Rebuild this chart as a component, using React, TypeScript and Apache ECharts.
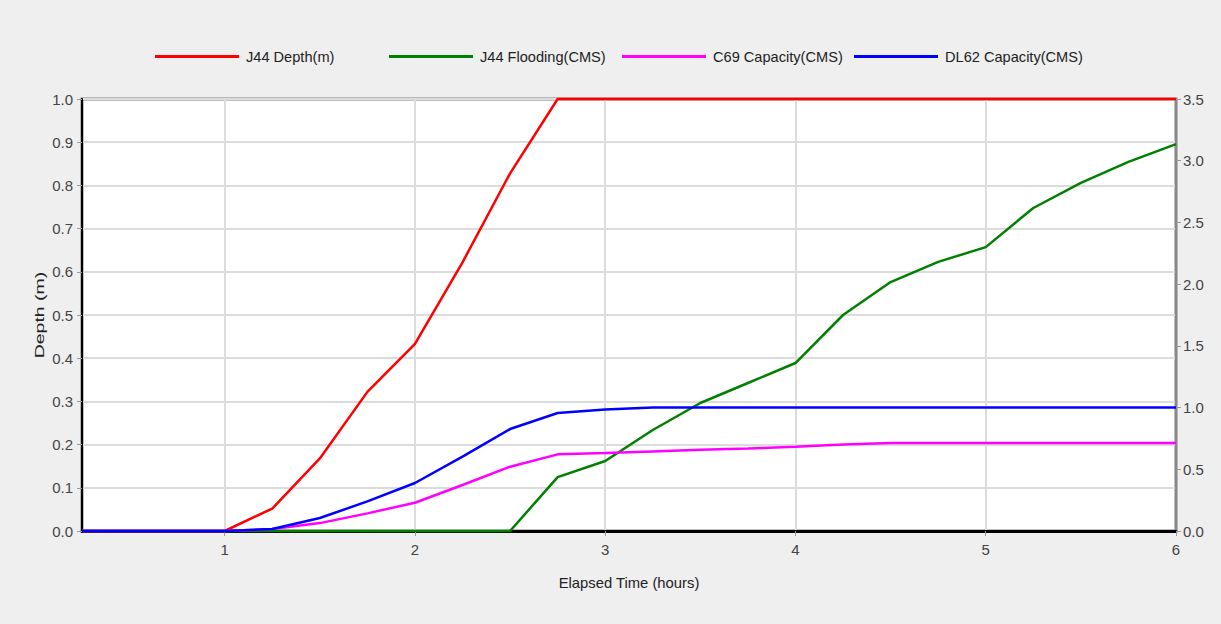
import React, { useEffect, useRef } from "react";
import * as echarts from "echarts";

const times = [0.25, 0.5, 0.75, 1.0, 1.25, 1.5, 1.75, 2.0, 2.25, 2.5, 2.75, 3.0, 3.25, 3.5, 3.75, 4.0, 4.25, 4.5, 4.75, 5.0, 5.25, 5.5, 5.75, 6.0];
const j44Depth = [0, 0, 0, 0, 0.052, 0.168, 0.322, 0.433, 0.622, 0.828, 1.0, 1.0, 1.0, 1.0, 1.0, 1.0, 1.0, 1.0, 1.0, 1.0, 1.0, 1.0, 1.0, 1.0];
const j44Flooding = [0, 0, 0, 0, 0, 0, 0, 0, 0, 0, 0.437, 0.567, 0.818, 1.037, 1.199, 1.361, 1.75, 2.017, 2.18, 2.3, 2.617, 2.82, 2.99, 3.135];
const c69Capacity = [0, 0, 0, 0, 0.016, 0.064, 0.143, 0.229, 0.373, 0.521, 0.621, 0.632, 0.645, 0.658, 0.668, 0.683, 0.7, 0.713, 0.713, 0.713, 0.713, 0.713, 0.713, 0.713];
const dl62Capacity = [0, 0, 0, 0, 0.016, 0.105, 0.24, 0.389, 0.602, 0.826, 0.956, 0.985, 1.0, 1.0, 1.0, 1.0, 1.0, 1.0, 1.0, 1.0, 1.0, 1.0, 1.0, 1.0];
const xTicks = [1, 2, 3, 4, 5, 6];
const seriesNames = ["J44 Depth(m)", "J44 Flooding(CMS)", "C69 Capacity(CMS)", "DL62 Capacity(CMS)"];
const seriesColors = ["#ff0000", "#008000", "#ff00ff", "#0000ff"];
const yAxisTitle = "Depth (m)";
const xAxisTitle = "Elapsed Time (hours)";

const FONT = "'Liberation Sans', Arial, sans-serif";

export default function App() {
  const ref = useRef<HTMLDivElement>(null);
  useEffect(() => {
    if (!ref.current) return;
    const chart = echarts.init(ref.current, undefined, { renderer: "svg" });
    const datasets = [j44Depth, j44Flooding, c69Capacity, dl62Capacity];
    const legendLefts = [155, 389, 622, 854];
    chart.setOption({
      animation: false,
      backgroundColor: "#efefef",
      textStyle: { fontFamily: FONT },
      legend: seriesNames.map((n, i) => ({
        data: [n],
        left: legendLefts[i],
        top: 49,
        padding: 0,
        icon: "rect",
        itemWidth: 84,
        itemHeight: 3,
        itemGap: 0,
        selectedMode: false,
        textStyle: { fontSize: 14.6, color: "#222", fontFamily: FONT, padding: [0, 0, 0, 2] },
      })),
      graphic: [
        {
          type: "text",
          x: 40,
          y: 315,
          rotation: Math.PI / 2,
          scaleX: 1.5,
          silent: true,
          style: {
            text: yAxisTitle,
            font: "13px 'Liberation Sans', Arial, sans-serif",
            fill: "#222",
            align: "center",
            verticalAlign: "middle",
          },
        },
      ],
      grid: {
        left: 82,
        right: 45,
        top: 99,
        bottom: 93,
        show: true,
        backgroundColor: "#ffffff",
        borderColor: "#808080",
        borderWidth: 3,
      },
      xAxis: {
        type: "value",
        min: 0.25,
        max: 6,
        name: xAxisTitle,
        nameLocation: "middle",
        nameGap: 44,
        nameTextStyle: { fontSize: 14.8, color: "#222", fontFamily: FONT },
        axisLine: { show: true, lineStyle: { color: "#000", width: 3 } },
        axisTick: { show: true, customValues: xTicks, length: 5, lineStyle: { color: "#999" } },
        axisLabel: { customValues: xTicks, color: "#444", fontSize: 15, margin: 11, fontFamily: FONT },
        splitLine: { show: true, lineStyle: { color: "#dcdcdc", width: 2 } },
      },
      yAxis: [
        {
          type: "value",
          min: 0,
          max: 1,
          interval: 0.1,
          axisLine: { show: true, lineStyle: { color: "#000", width: 2 } },
          axisTick: { show: true, length: 5, lineStyle: { color: "#999" } },
          axisLabel: { color: "#444", fontSize: 15, margin: 9, fontFamily: FONT, formatter: (v: number) => v.toFixed(1) },
          splitLine: { show: true, lineStyle: { color: "#dcdcdc", width: 2 } },
        },
        {
          type: "value",
          min: 0,
          max: 3.5,
          interval: 0.5,
          position: "right",
          axisLine: { show: true, lineStyle: { color: "#888", width: 2 } },
          axisTick: { show: true, length: 5, lineStyle: { color: "#999" } },
          axisLabel: { color: "#444", fontSize: 15, margin: 7, fontFamily: FONT, formatter: (v: number) => v.toFixed(1) },
          splitLine: { show: false },
        },
      ],
      series: seriesNames.map((n, i) => ({
        name: n,
        type: "line",
        yAxisIndex: i === 0 ? 0 : 1,
        data: times.map((t, k) => [t, datasets[i][k]]),
        symbol: "none",
        clip: false,
        silent: true,
        color: seriesColors[i],
        lineStyle: { color: seriesColors[i], width: 2.5 },
      })),
    });
    return () => chart.dispose();
  }, []);
  return (
    <div
      ref={ref}
      style={{ position: "absolute", left: 0, top: 0, width: 1221, height: 624, background: "#efefef" }}
    />
  );
}
